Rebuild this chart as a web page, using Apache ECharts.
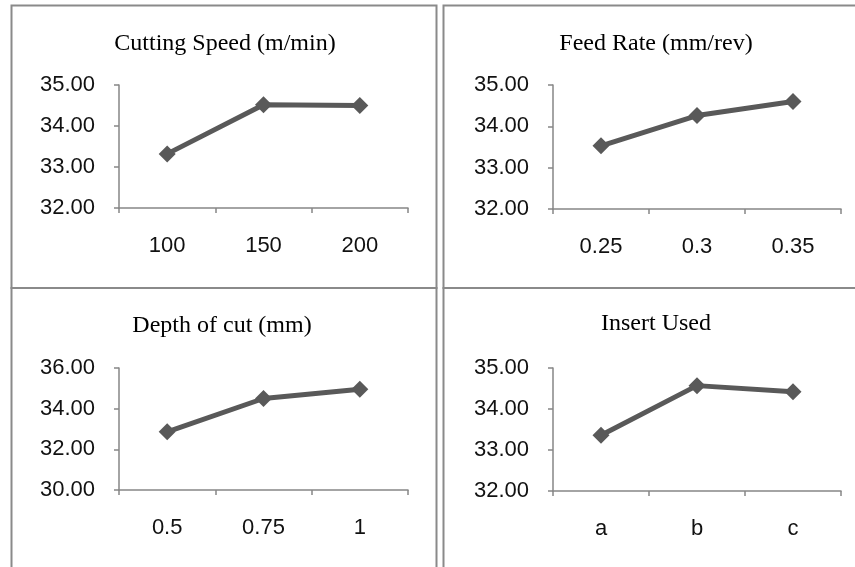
<!DOCTYPE html>
<html>
<head>
<meta charset="utf-8">
<script src="https://cdn.jsdelivr.net/npm/echarts@6/dist/echarts.min.js"></script>
<style>html,body{margin:0;padding:0;background:#fff}#c{width:855px;height:567px}</style>
</head>
<body>
<div id="c"></div>
<script>
var titles = ['Cutting Speed (m/min)', 'Feed Rate (mm/rev)', 'Depth of cut (mm)', 'Insert Used'];
var speedCats = ['100', '150', '200'];
var speedVals = [33.32, 34.52, 34.50];
var feedCats = ['0.25', '0.3', '0.35'];
var feedVals = [33.53, 34.26, 34.60];
var depthCats = ['0.5', '0.75', '1'];
var depthVals = [32.86, 34.50, 34.95];
var insertCats = ['a', 'b', 'c'];
var insertVals = [33.36, 34.57, 34.42];
var yRanges = [[32, 35, 1], [32, 35, 1], [30, 36, 2], [32, 35, 1]];

var cats = [speedCats, feedCats, depthCats, insertCats];
var vals = [speedVals, feedVals, depthVals, insertVals];

var grids = [
  {left: 119, top: 85, width: 289, height: 123},
  {left: 553, top: 85, width: 288, height: 124},
  {left: 119, top: 368, width: 289, height: 122},
  {left: 553, top: 368, width: 288, height: 123}
];
var titlePos = [[225, 32], [656, 32], [222, 314], [656, 312]];
var axisCol = '#868686';
var lineCol = '#595959';

var option = {
  animation: false,
  backgroundColor: '#fff',
  title: titles.map(function (t, i) {
    return {
      text: t, left: titlePos[i][0], top: titlePos[i][1], textAlign: 'center', padding: 0,
      textStyle: {fontFamily: 'Liberation Serif', fontSize: 24, fontWeight: 'normal', color: '#000'}
    };
  }),
  grid: grids,
  xAxis: cats.map(function (c, i) {
    return {
      type: 'category', gridIndex: i, data: c, boundaryGap: true,
      axisLine: {lineStyle: {color: axisCol, width: 1.5}},
      axisTick: {show: true, length: 5, lineStyle: {color: axisCol, width: 1.5}},
      axisLabel: {fontFamily: 'Liberation Sans', fontSize: 22, color: '#111', margin: 27},
      splitLine: {show: false}
    };
  }),
  yAxis: yRanges.map(function (r, i) {
    return {
      type: 'value', gridIndex: i, min: r[0], max: r[1], interval: r[2],
      axisLine: {show: true, lineStyle: {color: axisCol, width: 1.5}},
      axisTick: {show: true, length: 5, lineStyle: {color: axisCol, width: 1.5}},
      axisLabel: {fontFamily: 'Liberation Sans', fontSize: 22, color: '#111', margin: 24,
        formatter: function (v) { return v.toFixed(2); }},
      splitLine: {show: false}
    };
  }),
  series: vals.map(function (v, i) {
    return {
      type: 'line', xAxisIndex: i, yAxisIndex: i, data: v,
      symbol: 'diamond', symbolSize: 17,
      lineStyle: {color: lineCol, width: 5},
      itemStyle: {color: lineCol}
    };
  }),
  graphic: [
    {type: 'rect', shape: {x: 11.5, y: 5.5, width: 425, height: 282.5}, style: {fill: 'none', stroke: '#8a8a8a', lineWidth: 2}},
    {type: 'rect', shape: {x: 443.5, y: 5.5, width: 420, height: 282.5}, style: {fill: 'none', stroke: '#8a8a8a', lineWidth: 2}},
    {type: 'rect', shape: {x: 11.5, y: 288, width: 425, height: 290}, style: {fill: 'none', stroke: '#8a8a8a', lineWidth: 2}},
    {type: 'rect', shape: {x: 443.5, y: 288, width: 420, height: 290}, style: {fill: 'none', stroke: '#8a8a8a', lineWidth: 2}}
  ]
};
var chart = echarts.init(document.getElementById('c'), null, {renderer: 'canvas'});
chart.setOption(option);
</script>
</body>
</html>
